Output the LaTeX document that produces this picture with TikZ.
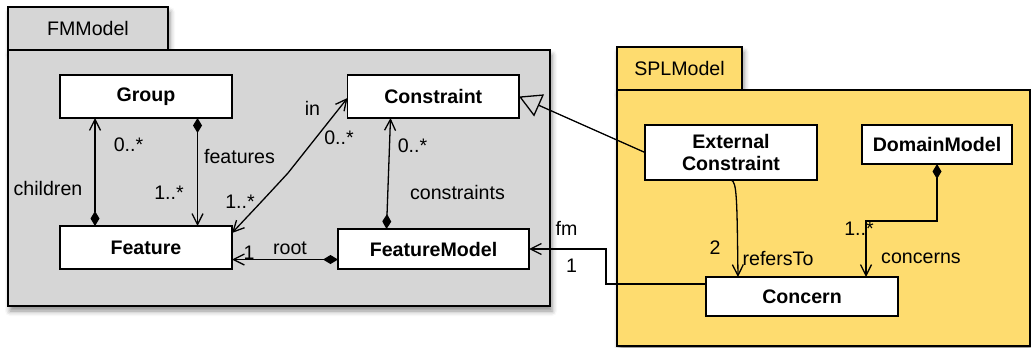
\documentclass[tikz,border=0pt]{standalone}
\usepackage{fontspec}
\setmainfont{Liberation Sans}
\usetikzlibrary{arrows.meta,shadows.blur,calc}
\definecolor{fmgray}{HTML}{D6D6D6}
\definecolor{splyellow}{HTML}{FEDC6F}
\newcommand{\fsz}{\fontsize{19.6}{22}\selectfont}
\begin{document}
\begin{tikzpicture}[x=1pt,y=-1pt,
  pkshadow/.style={blur shadow={shadow xshift=2pt, shadow yshift=-5pt, shadow blur radius=5pt, shadow opacity=45}},
  pkg/.style={draw, line width=1.3pt, inner sep=0pt, outer sep=0pt, font=\fsz, pkshadow},
  cls/.style={draw, fill=white, line width=1.3pt, inner sep=0pt, outer sep=0pt, font=\fsz\bfseries, align=center},
  lbl/.style={font=\fsz, inner sep=0pt},
  conn/.style={line width=1.3pt},
  barb/.style={-{Straight Barb[length=11pt,width=11pt,line width=1.3pt]}},
  barbs/.style={{Straight Barb[length=11pt,width=11pt,line width=1.3pt]}-{Straight Barb[length=11pt,width=11pt,line width=1.3pt]}},
  comp/.style={{Diamond[length=15pt,width=9pt]}-{Straight Barb[length=11pt,width=11pt,line width=1.3pt]}},
  gen/.style={-{Triangle[open,length=22pt,width=24pt,line width=1.3pt]}}
]
\useasboundingbox (0,0) rectangle (1031,348);

% packages
\node[pkg, fill=fmgray, minimum width=160pt, minimum height=43pt] (fmtab) at (88,28.5) {FMModel};
\node[pkg, fill=fmgray, minimum width=542pt, minimum height=256pt] (fmbody) at (279,178) {};
\node[pkg, fill=splyellow, minimum width=125pt, minimum height=43pt] (spltab) at (679.5,68.5) {SPLModel};
\node[pkg, fill=splyellow, minimum width=413pt, minimum height=256pt] (splbody) at (823.5,218) {};

% classes
\node[cls, minimum width=172pt, minimum height=43pt] (Group) at (146,96.5) {Group};
\node[cls, minimum width=171.5pt, minimum height=43pt] (Constraint) at (433.25,96.5) {Constraint};
\node[cls, minimum width=172pt, minimum height=43pt] (Feature) at (146,247.5) {Feature};
\node[cls, minimum width=191pt, minimum height=40pt] (FeatureModel) at (433.5,249) {FeatureModel};
\node[cls, minimum width=172pt, minimum height=55pt] (EC) at (731,152.5) {External\\Constraint};
\node[cls, minimum width=150pt, minimum height=39pt] (DomainModel) at (937,144.5) {DomainModel};
\node[cls, minimum width=192pt, minimum height=39pt] (Concern) at (802,296.5) {Concern};

% connectors
\draw[conn, comp] ([xshift=35pt]Feature.north west) -- ([xshift=35pt]Group.south west);
\draw[conn, comp] ([xshift=137.5pt]Group.south west) -- ([xshift=137.5pt]Feature.north west);
\draw[conn, barbs] ([yshift=-7pt]Feature.north east) .. controls (264,199) .. (288,173) -- ([yshift=-1.5pt]Constraint.west);
\draw[conn, comp] ([xshift=48.5pt]FeatureModel.north west) -- ([xshift=43pt]Constraint.south west);
\coordinate (rootS) at ([yshift=-10.5pt]FeatureModel.west);
\draw[conn, comp] (rootS) -- (rootS -| Feature.east);
\coordinate (fmS) at ([yshift=12.5pt]Concern.west);
\draw[conn, barb] (fmS) -- ++(-100,0) |- (FeatureModel.east);
\draw[conn, barb] (EC.south) .. controls (737,181) and (737,200) .. ([xshift=-64pt]Concern.north);
\draw[conn, comp] (DomainModel.south) -- ++(0,57) -| ([xshift=64pt]Concern.north);
\draw[conn, gen] (EC.west) -- (Constraint.east);

% labels
\node[lbl] (l1) at (128.5,145) {0..*};
\node[lbl] (l2) at (239.5,157) {features};
\node[lbl] (l3) at (48,188) {children};
\node[lbl] (l4) at (169,193) {1..*};
\node[lbl] (l5) at (240,202) {1..*};
\node[lbl] (l6) at (290,248) {root};
\node[lbl] (l7) at (249,253) {1};
\node[lbl] (l8) at (312.5,108) {in};
\node[lbl] (l9) at (339,138) {0..*};
\node[lbl] (l10) at (412.5,146) {0..*};
\node[lbl] (l11) at (457.5,192) {constraints};
\node[lbl] (l12) at (566.5,228) {fm};
\node[lbl] (l13) at (571.5,266) {1};
\node[lbl] (l14) at (715,248) {2};
\node[lbl] (l15) at (778,259) {refersTo};
\node[lbl] (l16) at (859,229) {1..*};
\node[lbl] (l17) at (921,258) {concerns};
\end{tikzpicture}
\end{document}
